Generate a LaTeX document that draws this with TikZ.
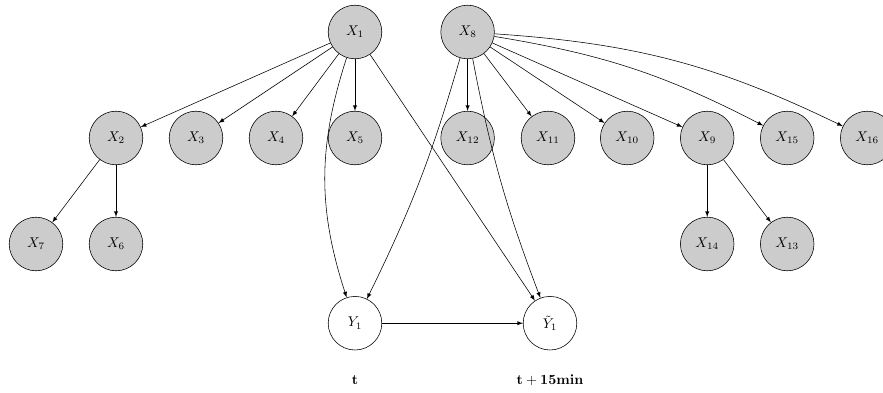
\documentclass[tikz,border=0pt]{standalone}
\usepackage{amsmath, amssymb}
\usepackage{xcolor}
\usepackage{tikz}
\definecolor{nodegray}{rgb}{0.80, 0.80, 0.80}

\begin{document}
\begin{tikzpicture}[>=latex,
    var/.style={circle, draw, fill=nodegray, minimum size=1.34cm, inner sep=0pt},
    target/.style={circle, draw, fill=white, minimum size=1.34cm, inner sep=0pt}]

\useasboundingbox (0,0) rectangle (22.075,9.8);

% Roots
\node[var] (x1) at (8.875,9.0) {$X_1$};
\node[var] (x8) at (11.69,9.0) {$X_8$};

% Second row
\node[var] (x2)  at (2.9,6.35)   {$X_2$};
\node[var] (x3)  at (4.9,6.35)   {$X_3$};
\node[var] (x4)  at (6.9,6.35)   {$X_4$};
\node[var] (x5)  at (8.875,6.35) {$X_5$};
\node[var] (x12) at (11.69,6.35) {$X_{12}$};
\node[var] (x11) at (13.7,6.35)  {$X_{11}$};
\node[var] (x10) at (15.68,6.35) {$X_{10}$};
\node[var] (x9)  at (17.68,6.35) {$X_9$};
\node[var] (x15) at (19.68,6.35) {$X_{15}$};
\node[var] (x16) at (21.68,6.35) {$X_{16}$};

% Third row
\node[var] (x7)  at (0.9,3.7)   {$X_7$};
\node[var] (x6)  at (2.9,3.7)   {$X_6$};
\node[var] (x14) at (17.68,3.7) {$X_{14}$};
\node[var] (x13) at (19.68,3.7) {$X_{13}$};

% Targets
\node[target] (y1) at (8.875,1.72) {$Y_1$};
\node[target] (y1t) at (13.75,1.72) {$\tilde{Y}_1$};

% Time labels
\node (tnow) at (8.875,0.3) {$\mathbf{t}$};
\node (tlater) at (13.75,0.3) {$\mathbf{t+15min}$};

% Edges
\foreach \a/\b in {x1/x2,x1/x3,x1/x4,x1/x5,x1/y1t,
                   x8/x12,x8/x11,x8/x10,x8/x9,
                   x2/x7,x2/x6,x9/x14,x9/x13,y1/y1t}
{
    \draw[->] (\a) -- (\b);
}
\draw[->] (x1) to[bend right=18] (y1);
\draw[->] (x8) to[bend left=5] (y1);
\draw[->] (x8) to[bend right=5] (y1t);
\draw[->] (x8) to[bend left=9] (x15);
\draw[->] (x8) to[bend left=11] (x16);

\end{tikzpicture}
\end{document}
